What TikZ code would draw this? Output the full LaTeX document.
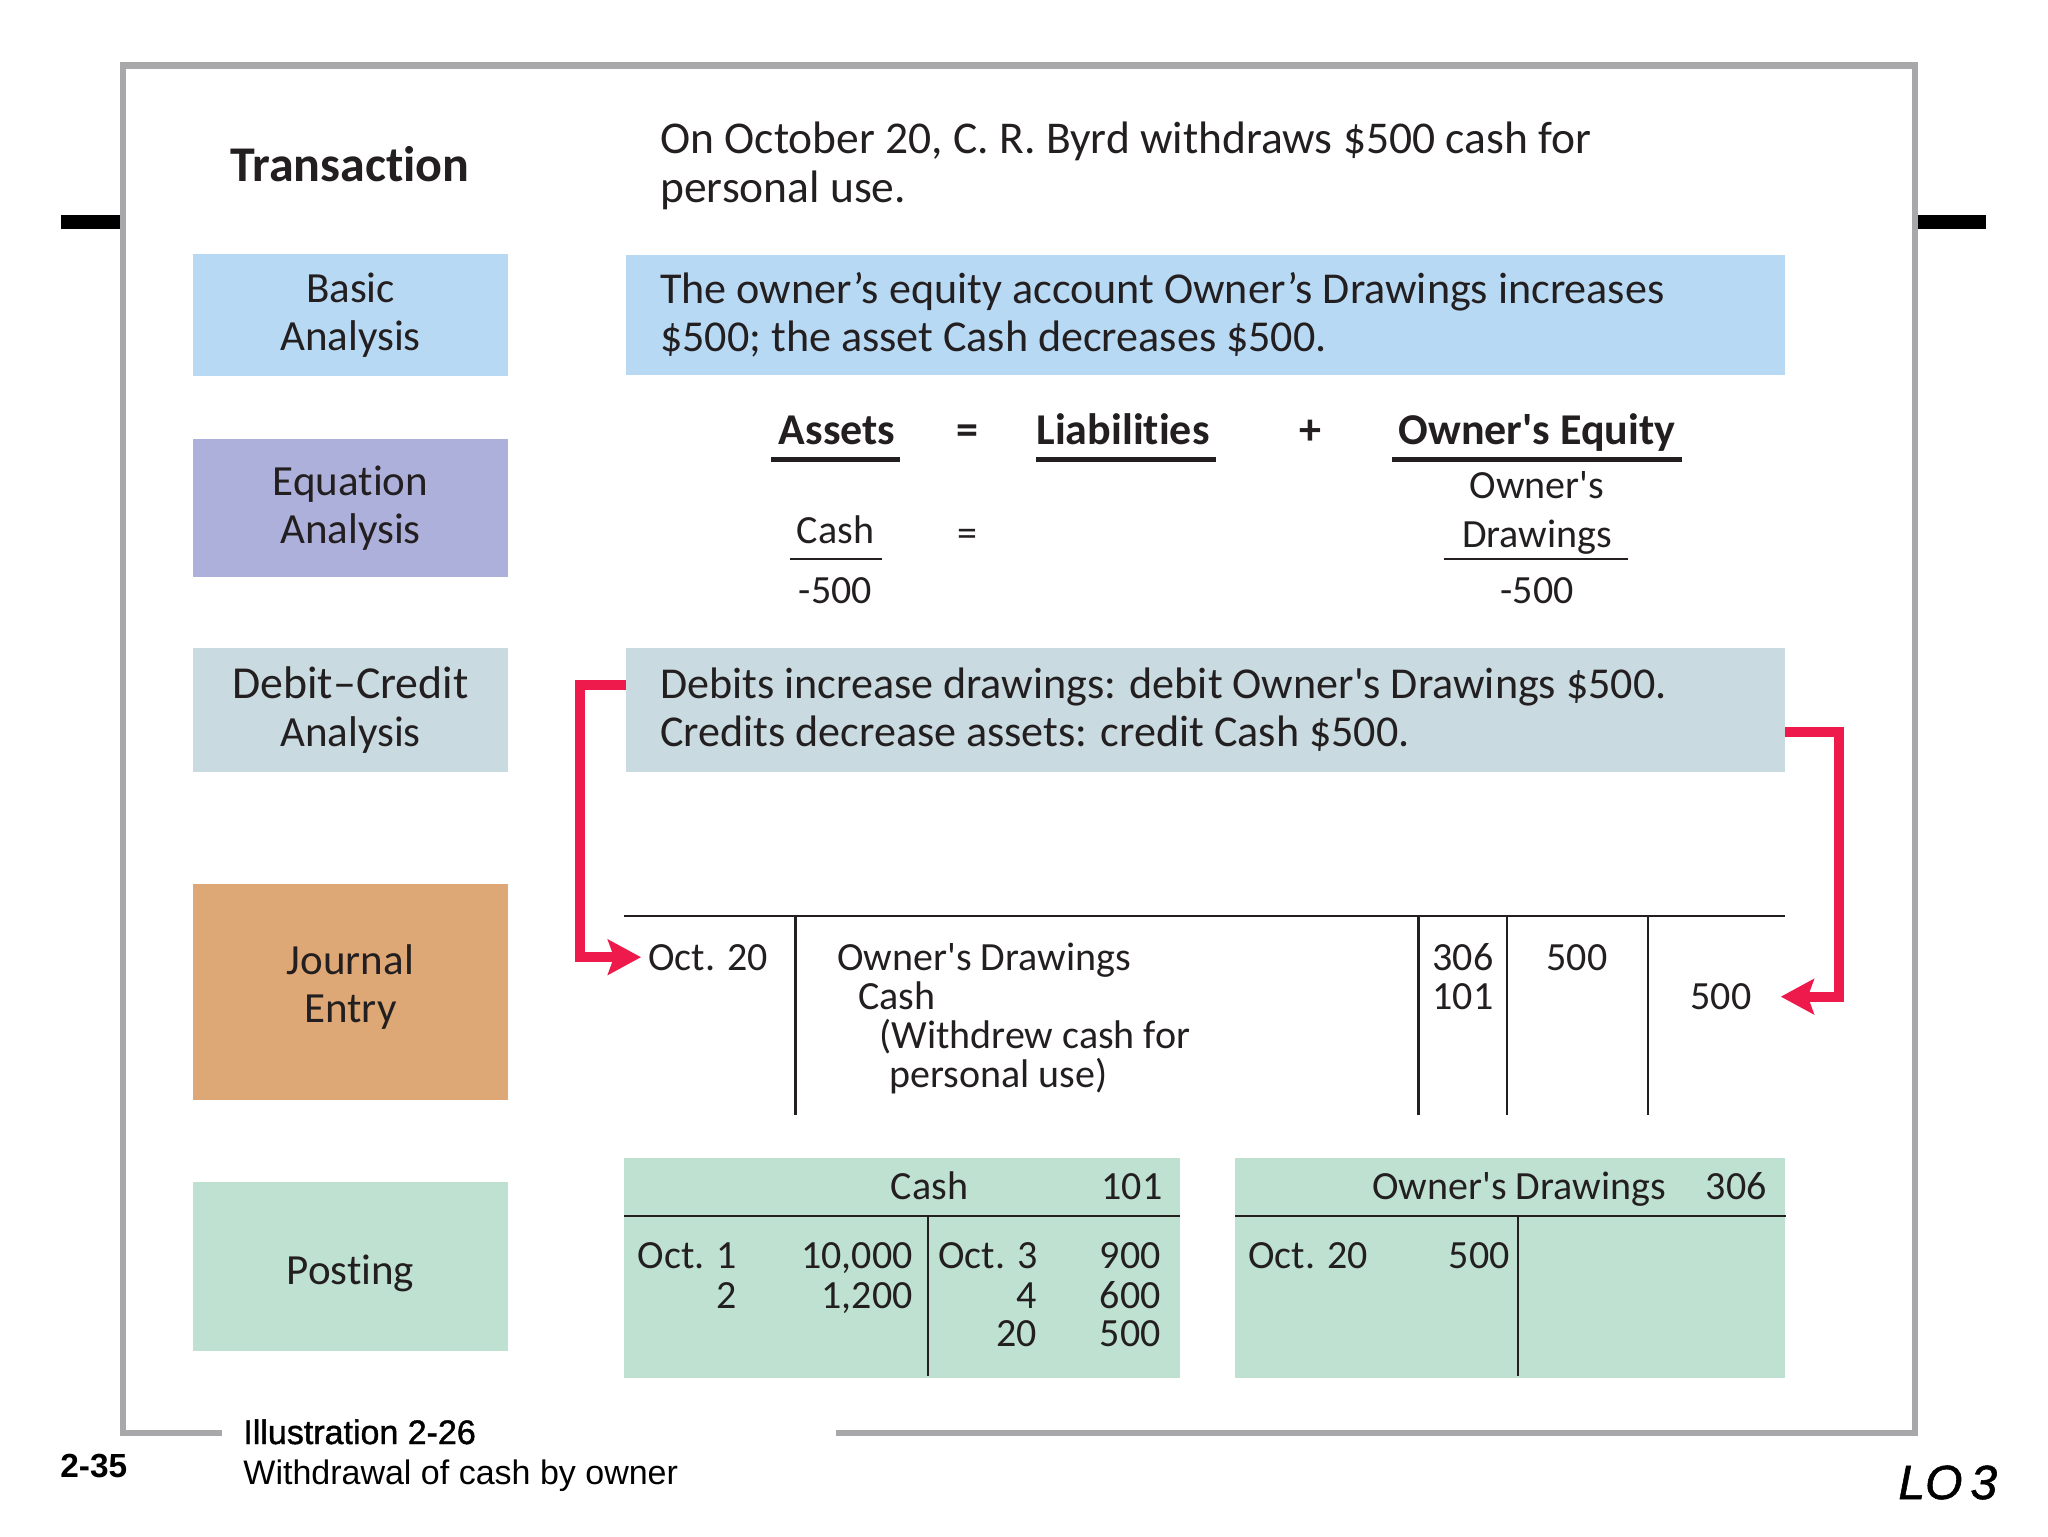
\documentclass[tikz,border=0pt]{standalone}
\usepackage{fontspec}
\setmainfont[Ligatures={TeXOff,CommonOff}]{Carlito}
\newfontfamily\capfont{Liberation Sans}
\newfontfamily\capboldfont[FakeBold=1.2]{Liberation Sans}
\usetikzlibrary{arrows.meta}
\definecolor{framegrey}{HTML}{A8A8AA}
\definecolor{inkdark}{HTML}{231F20}
\definecolor{basicblue}{HTML}{B8D9F3}
\definecolor{equationviolet}{HTML}{ADB0DA}
\definecolor{debitgrey}{HTML}{C9DBE0}
\definecolor{journalorange}{HTML}{DEA876}
\definecolor{postinggreen}{HTML}{BFE1D2}
\definecolor{arrowred}{HTML}{ED1A4B}
\tikzset{
  txt/.style={inner sep=0pt,text=inkdark,font=\fontsize{20}{24}\selectfont},
  lefttxt/.style={txt,anchor=base west},
  midtxt/.style={txt,anchor=base},
  righttxt/.style={txt,anchor=base east},
  bigtxt/.style={lefttxt,font=\fontsize{22.75}{24}\selectfont},
  boldtxt/.style={midtxt,font=\fontsize{22}{24}\selectfont\bfseries},
  sidebox/.style 2 args={txt,font=\fontsize{21.5}{24}\selectfont,align=center,minimum width=157.6pt,fill=#1,minimum height=#2},
  dropby/.style={execute at begin node={\rule{0pt}{#1}}},
  liftby/.style={execute at end node={\rule[-#1]{0pt}{#1}}},
  widebox/.style={bigtxt,font=\fontsize{22.05}{24}\selectfont,anchor=center,align=flush left,inner xsep=17pt,text width=545.5pt,minimum height=60pt,fill=#1},
  ledger/.style={fill=postinggreen,inner sep=0pt,anchor=north west},
  frameline/.style={line width=3.2pt,framegrey},
  ruled/.style={line width=1.4pt,inkdark},
  thickrule/.style={line width=2.5pt,inkdark},
  flowline/.style={line width=5pt,arrowred,-{Stealth[length=16.5pt,width=17.5pt,inset=3pt]}}
}
\begin{document}
\begin{tikzpicture}[line join=miter,x=0.5pt,y=-0.5pt]
\useasboundingbox (0,0) rectangle (2048,1536);
\fill[white] (0,0) rectangle (2048,1536);
% outer frame, open at the caption
\draw[frameline] (222,1433)--(123,1433)--(123,65.5)--(1915,65.5)--(1915,1433)--(836,1433);
\fill[black] (61,214.5) rectangle (120,228.7);
\fill[black] (1917.5,214.5) rectangle (1986,228.7);

\node[boldtxt,font=\fontsize{25}{24}\selectfont\bfseries] (transaction) at (350,181) {Transaction};
\node[bigtxt] (event1) at (660,154) {On October 20, C. R. Byrd withdraws \$500 cash for};
\node[bigtxt] (event2) at (660,202) {personal use.};

% left column
\node[sidebox={basicblue}{61pt},dropby=19.5pt] (basic) at (350.5,315) {Basic\\Analysis};
\node[sidebox={equationviolet}{69pt},dropby=21pt] (equation) at (350.5,508) {Equation\\Analysis};
\node[sidebox={debitgrey}{62pt},dropby=19pt] (debit) at (350.5,710) {{\fontsize{22.9}{24}\selectfont Debit–Credit}\\Analysis};
\node[sidebox={journalorange}{108pt},liftby=8.7pt] (journal) at (350.5,992) {Journal\\Entry};
\node[sidebox={postinggreen}{84.5pt},dropby=21.5pt] (posting) at (350.5,1266.5) {Posting};

% analysis text
\node[widebox=basicblue] (basictext) at (1205.5,315) {The owner’s equity account Owner’s Drawings increases\\\$500; the asset Cash decreases \$500.};
\node[widebox=debitgrey,minimum height=62pt] (debittext) at (1205.5,710) {Debits increase drawings: debit Owner's Drawings \$500.\\Credits decrease assets: credit Cash \$500.};

% accounting equation
\node[boldtxt] (assets) at (837,444) {Assets};
\node[boldtxt] (eqtop) at (967,444) {=};
\node[boldtxt] (liab) at (1123,444) {Liabilities};
\node[boldtxt] (plus) at (1310,444) {+};
\node[boldtxt] (equity) at (1537,444) {Owner's Equity};
\draw[thickrule] (771,459.5)--(900,459.5);
\draw[thickrule] (1036,459.5)--(1216,459.5);
\draw[thickrule] (1392,459.5)--(1682,459.5);
\node[midtxt] (cash) at (835.5,543.6) {Cash};
\node[midtxt] (eqlow) at (967,546) {=};
\node[midtxt] (ownera) at (1537,498) {Owner's};
\node[midtxt] (ownerb) at (1537,547) {Drawings};
\draw[ruled] (790,559)--(882,559);
\draw[ruled] (1444,559)--(1628,559);
\node[midtxt] (cashamt) at (835.5,603) {-500};
\node[midtxt] (drawamt) at (1537,603) {-500};

% journal entry
\draw[ruled] (624,916)--(1785,916);
\foreach \xx in {795.5,1418.5,1507,1648}
  \draw[ruled] (\xx,916)--(\xx,1115);
\node[lefttxt] (journaldate) at (648,970) {Oct. 20};
\node[lefttxt] (jrow1) at (837,970) {Owner's Drawings};
\node[lefttxt] (jrow2) at (858,1009.5) {Cash};
\node[lefttxt] (jrow3) at (879,1048) {(Withdrew cash for};
\node[lefttxt] (jrow4) at (889,1087) {personal use)};
\node[midtxt] (jref1) at (1463,970) {306};
\node[midtxt] (jref2) at (1463,1009.5) {101};
\node[midtxt] (jdebit) at (1577,970) {500};
\node[midtxt] (jcredit) at (1721,1009.5) {500};

% ledger accounts
\node[ledger,minimum width=277.75pt,minimum height=110.25pt] (cashacct) at (624,1157.5) {};
\node[ledger,minimum width=275pt,minimum height=110.25pt] (drawacct) at (1235,1157.5) {};
\draw[ruled] (cashacct.west |- 0,1216)--(cashacct.east |- 0,1216);
\draw[ruled] (drawacct.west |- 0,1216)--(drawacct.east |- 0,1216);
\draw[ruled] (928,1216)--(928,1376);
\draw[ruled] (1518,1216)--(1518,1376);
\node[midtxt] (cashtitle) at (929.5,1199) {Cash};
\node[midtxt] (cashno) at (1132,1199) {101};
\node[lefttxt] (drawtitle) at (1372,1199) {Owner's Drawings};
\node[righttxt] (drawno) at (1767,1199) {306};
\node[lefttxt] (cashd1) at (637.5,1268.5) {Oct. 1};
\node[righttxt] (cashd2) at (737,1308) {2};
\node[righttxt] (cashv1) at (913,1268.5) {10,000};
\node[righttxt] (cashv2) at (913,1308) {1,200};
\node[lefttxt] (cashd3) at (938,1268.5) {Oct. 3};
\node[righttxt] (cashd4) at (1037,1308) {4};
\node[righttxt] (cashd5) at (1037,1346) {20};
\node[righttxt] (cashc1) at (1161,1268.5) {900};
\node[righttxt] (cashc2) at (1161,1308) {600};
\node[righttxt] (cashc3) at (1161,1346) {500};
\node[lefttxt] (drawd1) at (1248,1268.5) {Oct. 20};
\node[righttxt] (drawv1) at (1510,1268.5) {500};

% red arrows
\draw[flowline] ([yshift=12.5pt]debittext.west) -- ++(-46,0) |- ([xshift=-3.5pt]journaldate.west);
\draw[flowline] ([yshift=-11pt]debittext.east) -- ++(54,0) |- ([xshift=14.5pt]jcredit.east);

% caption
\node[anchor=base west,inner sep=0pt,font=\fontsize{17}{18}\capboldfont] (illus) at (243,1444) {Illustration 2-26};
\node[anchor=base west,inner sep=0pt,font=\fontsize{17}{18}\capfont] (illustitle) at (243,1484) {Withdrawal of cash by owner};
\node[anchor=base west,inner sep=0pt,font=\fontsize{16.7}{18}\capfont\bfseries] (pageno) at (60,1477) {2-35};
\node[anchor=base west,inner sep=0pt,font=\fontsize{24}{26}\capboldfont\itshape] (lo) at (1898,1499) {LO\hspace{4pt}3};
\end{tikzpicture}
\end{document}
